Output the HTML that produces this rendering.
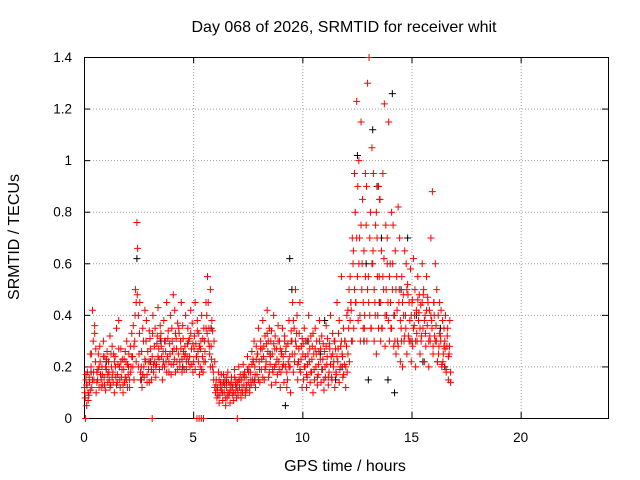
<!DOCTYPE html>
<html><head><meta charset="utf-8"><style>
html,body{margin:0;padding:0;background:#fff}
svg{display:block;font-family:"Liberation Sans",sans-serif}
</style></head><body>
<svg id="c" width="640" height="480"></svg>
<script>
const xTicks=[0,5,10,15,20];
const yTicks=[0,0.2,0.4,0.6,0.8,1,1.2,1.4];
const yTickLabels=["0","0.2","0.4","0.6","0.8","1","1.2","1.4"];
const redTimes=[0.0,0.1,0.2,0.3,0.4,0.5,0.6,0.7,0.8,0.9,1.0,1.1,1.2,1.3,1.4,1.5,1.6,1.7,1.8,1.9,2.0,2.1,2.2,2.3,2.4,2.5,2.6,2.7,2.8,2.9,3.0,3.1,3.2,3.3,3.4,3.5,3.6,3.7,3.8,3.9,4.0,4.1,4.2,4.3,4.4,4.5,4.6,4.7,4.8,4.9,5.0,5.1,5.2,5.3,5.4,5.5,5.6,5.7,5.8,5.9,6.0,6.1,6.2,6.3,6.4,6.5,6.6,6.7,6.8,6.9,7.0,7.1,7.2,7.3,7.4,7.5,7.6,7.7,7.8,7.9,8.0,8.1,8.2,8.3,8.4,8.5,8.6,8.7,8.8,8.9,9.0,9.1,9.2,9.3,9.4,9.5,9.6,9.7,9.8,9.9,10.0,10.1,10.2,10.3,10.4,10.5,10.6,10.7,10.8,10.9,11.0,11.1,11.2,11.3,11.4,11.5,11.6,11.7,11.8,11.9,12.0,12.1,12.2,12.3,12.4,12.5,12.6,12.7,12.8,12.9,13.0,13.1,13.2,13.3,13.4,13.5,13.6,13.7,13.8,13.9,14.0,14.1,14.2,14.3,14.4,14.5,14.6,14.7,14.8,14.9,15.0,15.1,15.2,15.3,15.4,15.5,15.6,15.7,15.8,15.9,16.0,16.1,16.2,16.3,16.4,16.5,16.6,16.7];
const redValues=[[.12,.08,.15],[.05,.18,.10],[.09,.14,.25],[.20,.12,.42],[.30,.15,.36],[.22,.10,.18],[.15,.25,.20],[.28,.17,.12],[.20,.13,.30],[.16,.24,.11],[.19,.26,.14],[.22,.15,.32],[.13,.20,.28],[.18,.25,.10],[.24,.16,.35],[.14,.21,.38],[.20,.12,.27],[.16,.23,.10],[.19,.14,.26],[.22,.30,.12],[.17,.25,.15],[.28,.20,.33],[.24,.36,.15],[.30,.50,.45],[.76,.66,.40],[.25,.45,.18],[.20,.12,.35],[.30,.16,.42],[.22,.38,.14],[.26,.19,.34],[.31,.22,.15],[.24,.40,.18],[.28,.35,.20],[.21,.32,.43],[.27,.19,.36],[.33,.24,.15],[.26,.38,.20],[.30,.22,.45],[.24,.34,.18],[.29,.40,.21],[.35,.26,.48],[.27,.42,.18],[.31,.22,.37],[.25,.33,.20],[.30,.45,.23],[.36,.26,.19],[.28,.40,.22],[.24,.35,.30],[.31,.20,.42],[.27,.37,.18],[.22,.32,.45],[.29,.24,.38],[.26,.33,.17],[.20,.30,.40],[.24,.18,.35],[.30,.22,.45],[.40,.55,.30],[.35,.25,.50],[.28,.38,.20],[.18,.30,.12],[.10,.15,.08],[.12,.18,.06],[.09,.14,.11],[.13,.07,.17],[.10,.15,.05],[.12,.08,.18],[.14,.10,.06],[.11,.16,.09],[.13,.07,.19],[.10,.15,.12],[.14,.09,.20],[.12,.17,.08],[.15,.10,.21],[.13,.18,.09],[.16,.11,.24],[.14,.20,.10],[.18,.13,.26],[.15,.22,.30],[.20,.12,.28],[.17,.25,.35],[.22,.14,.30],[.19,.27,.38],[.24,.15,.32],[.20,.29,.42],[.26,.16,.35],[.21,.30,.13],[.25,.18,.40],[.20,.32,.14],[.27,.17,.36],[.22,.30,.12],[.18,.26,.35],[.24,.14,.30],[.20,.28,.12],[.15,.22,.38],[.24,.10,.30],[.30,.45,.18],[.35,.25,.50],[.28,.40,.15],[.22,.33,.45],[.18,.28,.12],[.25,.15,.35],[.20,.30,.12],[.16,.25,.40],[.22,.14,.32],[.18,.28,.10],[.25,.15,.35],[.20,.30,.13],[.17,.26,.38],[.23,.14,.32],[.19,.29,.11],[.26,.16,.36],[.21,.31,.13],[.18,.27,.40],[.24,.15,.33],[.20,.30,.12],[.27,.17,.45],[.22,.33,.14],[.19,.28,.55],[.25,.16,.35],[.21,.30,.12],[.28,.18,.42],[.35,.22,.55],[.45,.30,.70],[.60,.35,.95],[.80,.45,1.23],[.55,.38,1.00],[.70,.30,1.15],[.50,.85,.35],[.65,.40,.95],[.75,.30,1.30],[.55,1.40,.40],[.80,.35,1.05],[.60,.95,.30],[.45,.75,.25],[.70,.40,.90],[.55,.85,.30],[.65,.35,.95],[.50,1.22,.28],[.75,.40,.60],[.45,1.15,.30],[.60,.35,.80],[.50,.75,.28],[.40,.65,.25],[.55,.30,.82],[.45,.70,.22],[.35,.55,.20],[.48,.30,.65],[.40,.60,.25],[.52,.32,.45],[.38,.58,.22],[.45,.28,.62],[.36,.50,.20],[.42,.30,.55],[.38,.48,.25],[.44,.32,.60],[.35,.50,.22],[.40,.28,.55],[.36,.45,.20],[.42,.30,.70],[.38,.88,.25],[.45,.32,.60],[.36,.50,.22],[.40,.28,.45],[.32,.42,.20],[.38,.25,.35],[.30,.40,.18],[.28,.35,.15],[.25,.38,.14]];
const redValuesExtra=[[.10,.17],[.13,.07],[.16,.11],[.25,.15],[.18,.33],[.27,.14],[.19,.12],[.22,.15],[.17,.24],[.13,.20],[.23,.17],[.18,.12],[.25,.16],[.14,.22],[.20,.13],[.17,.27],[.15,.22],[.19,.13],[.23,.16],[.15,.21],[.20,.12],[.18,.24],[.20,.28],[.40,.22],[.48,.20],[.33,.15],[.26,.17],[.20,.23],[.30,.17],[.22,.14],[.27,.19],[.33,.21],[.22,.16],[.29,.24],[.23,.31],[.28,.20],[.22,.30],[.26,.18],[.31,.22],[.25,.17],[.30,.21],[.23,.33],[.27,.19],[.35,.22],[.27,.18],[.31,.24],[.25,.19],[.29,.22],[.24,.33],[.21,.29],[.27,.19],[.24,.34],[.22,.28],[.27,.19],[.31,.22],[.26,.35],[.33,.45],[.28,.20],[.23,.34],[.15,.22],[.13,.11],[.09,.15],[.12,.17],[.10,.14],[.13,.08],[.16,.10],[.09,.13],[.14,.12],[.10,.16],[.13,.08],[.11,.15],[.15,.10],[.12,.17],[.16,.11],[.13,.19],[.18,.12],[.15,.21],[.23,.14],[.17,.23],[.25,.15],[.19,.27],[.23,.16],[.28,.19],[.22,.33],[.30,.18],[.24,.34],[.19,.29],[.27,.21],[.23,.30],[.19,.27],[.25,.20],[.21,.32],[.26,.18],[.29,.20],[.20,.34],[.25,.38],[.22,.30],[.33,.21],[.27,.19],[.23,.31],[.29,.20],[.24,.17],[.21,.30],[.27,.18],[.23,.33],[.19,.27],[.25,.16],[.21,.30],[.27,.19],[.23,.15],[.20,.28],[.24,.16],[.29,.21],[.16,.25],[.22,.30],[.18,.24],[.27,.38],[.20,.30],[.24,.17],[.30,.20],[.40,.25],[.50,.38],[.42,.30],[.65,.50],[.45,.70],[.90,.60],[.40,.75],[.60,.45],[.35,.55],[.90,.50],[.45,.70],[.35,.60],[.65,.50],[.40,.80],[.55,.35],[.85,.45],[.35,.55],[.62,.40],[.50,.70],[.38,.55],[.45,.35],[.60,.40],[.30,.50],[.42,.28],[.50,.38],[.30,.45],[.40,.32],[.35,.50],[.48,.30],[.30,.40],[.46,.35],[.40,.30],[.33,.46],[.41,.35],[.30,.45],[.48,.38],[.33,.42],[.47,.30],[.32,.40],[.35,.28],[.40,.30],[.30,.22],[.25,.33],[.30,.21],[.22,.28],[.27,.19],[.32,.24],[.28,.18],[.26,.20]];
const redZeroTimes=[0.05,3.1,5.15,5.25,5.35,5.45,7.0];
const blackTimes=[0.1,0.3,1.0,2.4,2.6,3.5,4.5,5.8,6.5,8.5,9.2,9.4,9.5,10.2,11,11.5,12.2,12.5,12.8,13,13.2,13.4,13.6,13.9,14.1,14.2,14.5,15,15.5,16,16.5,12.9,13.5,14.8,15.2,16.3,3,7.8,10.8,11.8];
const blackValues=[.13,.18,.22,.62,.15,.3,.2,.35,.14,.25,.05,.62,.5,.3,.38,.15,.45,1.02,.3,.15,1.12,.9,.7,.15,1.26,.1,.5,.3,.22,.45,.2,.6,.45,.7,.4,.35,.22,.15,.25,.2];

const L=84,R=608,T=57,B=418,XMAX=24,YMAX=1.4;
const X=v=>L+v/XMAX*(R-L), Y=v=>B-v/YMAX*(B-T);
const svg=document.getElementById('c'),NS='http://www.w3.org/2000/svg';
function mk(tag,at,parent){const e=document.createElementNS(NS,tag);for(const k in at)e.setAttribute(k,at[k]);(parent||svg).appendChild(e);return e;}

const grid=mk('g',{stroke:'#a0a0a0','stroke-width':1,'stroke-dasharray':'1,2'});


xTicks.forEach(t=>{if(t>0)mk('line',{x1:X(t)+.5,x2:X(t)+.5,y1:T,y2:B},grid);});
yTicks.forEach(t=>{if(t>0&&t<YMAX)mk('line',{x1:L,x2:R,y1:Y(t)+.5,y2:Y(t)+.5},grid);});

const ax=mk('g',{stroke:'#000','stroke-width':1,fill:'none'});


mk('rect',{x:L+.5,y:T+.5,width:R-L,height:B-T},ax);
xTicks.forEach(t=>{const x=X(t)+.5;mk('line',{x1:x,x2:x,y1:B,y2:B-6},ax);mk('line',{x1:x,x2:x,y1:T,y2:T+6},ax);});
yTicks.forEach(t=>{const y=Y(t)+.5;mk('line',{x1:L,x2:L+6,y1:y,y2:y},ax);mk('line',{x1:R,x2:R-6,y1:y,y2:y},ax);});

const tl=mk('g',{'font-size':13.5,fill:'#000'});


xTicks.forEach(t=>{const e=mk('text',{x:X(t),y:B+24,'text-anchor':'middle'},tl);e.textContent=String(t);});
yTicks.forEach((t,i)=>{const e=mk('text',{x:L-12,y:Y(t)+5,'text-anchor':'end'},tl);e.textContent=yTickLabels[i];});

function cross(g,t,v){const x=X(t)+.5,y=Y(v)+.5;mk('path',{d:`M${x-3.5} ${y}h7M${x} ${y-3.5}v7`},g);}
const bk=mk('g',{stroke:'#000','stroke-width':1,fill:'none'});


blackTimes.forEach((t,i)=>cross(bk,t,blackValues[i]));
const rd=mk('g',{stroke:'#ff0000','stroke-width':1,fill:'none'});


redTimes.forEach((t,i)=>(redValues[i]||[]).forEach((v,j)=>cross(rd,t+j*0.033,v)));
redTimes.forEach((t,i)=>(redValuesExtra[i]||[]).forEach((v,j)=>cross(rd,t+0.016+j*0.05,v)));
redZeroTimes.forEach(t=>cross(rd,t,0));

const title=mk('text',{x:344,y:32,'text-anchor':'middle','font-size':16});


title.textContent='Day 068 of 2026, SRMTID for receiver whit';
const xl=mk('text',{x:345,y:471,'text-anchor':'middle','font-size':16});


xl.textContent='GPS time / hours';
const yl=mk('text',{x:19,y:237,'text-anchor':'middle','font-size':16,transform:'rotate(-90 19 237)'});


yl.textContent='SRMTID / TECUs';
</script>
</body></html>
